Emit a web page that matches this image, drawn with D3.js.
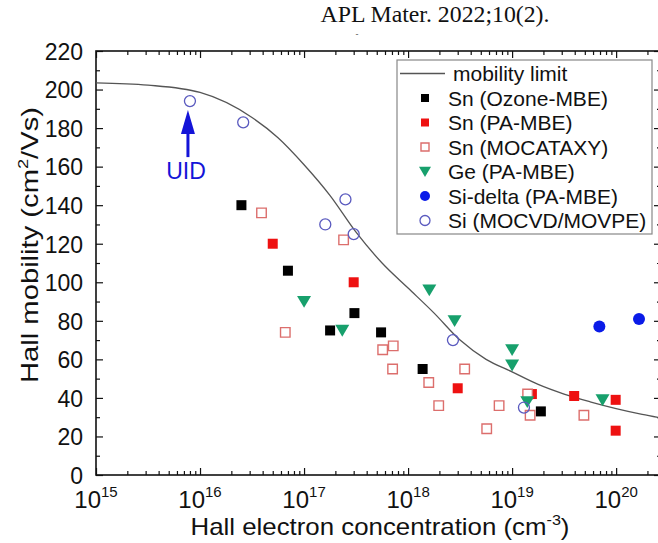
<!DOCTYPE html>
<html><head><meta charset="utf-8">
<script src="https://cdn.jsdelivr.net/npm/d3@7"></script>
<style>
body{margin:0;background:#fff}
svg{display:block}
text{font-family:"Liberation Sans",Arial,Helvetica,sans-serif;fill:#111}
</style>
</head><body>
<svg id="chart" width="658" height="543"></svg>
<script>
// ---------- data ----------
const snOzoneConc = [2.5e16, 7.0e16, 1.78e17, 3.05e17, 5.5e17, 1.38e18, 1.89e19];
const snOzoneMob  = [140, 106, 75, 84, 74, 55, 33];
const snPAConc = [5.0e16, 3.0e17, 3.0e18, 1.55e19, 3.95e19, 9.9e19, 9.9e19];
const snPAMob  = [120, 100, 45, 42, 41, 39, 23];
const snMocConc = [3.9e16, 6.6e16, 2.4e17, 5.7e17, 7.2e17, 7.1e17, 1.58e18, 1.97e18, 3.5e18, 7.5e18, 5.7e18, 1.41e19, 1.49e19, 4.9e19];
const snMocMob  = [136, 74, 122, 65, 67, 55, 48, 36, 55, 36, 24, 42, 31, 31];
const geConc = [1.0e17, 2.33e17, 1.6e18, 2.8e18, 1.0e19, 1.0e19, 1.4e19, 7.4e19];
const geMob  = [90, 75, 96, 80, 65, 57, 38, 39];
const siDeltaConc = [6.9e19, 1.66e20];
const siDeltaMob  = [77, 81];
const siConc = [8.0e15, 2.6e16, 1.6e17, 2.5e17, 3.0e17, 2.7e18, 1.3e19];
const siMob  = [194, 183, 130, 143, 125, 70, 35];
const limitConc = [1e15, 3.16e15, 1e16, 3.16e16, 5.62e16, 1e17, 1.78e17, 3.16e17, 5.62e17, 1e18, 1.78e18, 3.16e18, 5.62e18, 1e19, 1.78e19, 3.16e19, 5.62e19, 1e20, 1.78e20, 2.8e20];
const limitMob  = [203.5, 202.3, 198.5, 185.5, 175, 161, 145, 126, 110, 97, 84, 70, 60, 53.5, 47, 42, 38, 34.5, 31.5, 29.5];
const yTickLabels = [0, 20, 40, 60, 80, 100, 120, 140, 160, 180, 200, 220];
const xTickExponents = [15, 16, 17, 18, 19, 20];
const legendLabels = ["mobility limit", "Sn (Ozone-MBE)", "Sn (PA-MBE)", "Sn (MOCATAXY)", "Ge (PA-MBE)", "Si-delta (PA-MBE)", "Si (MOCVD/MOVPE)"];
const uidConc = 8.0e15, uidMob = 194;

// ---------- layout ----------
const L = 96, R = 661, T = 51, B = 475;
const svg = d3.select("#chart");
const x = d3.scaleLog().domain([1e15, 2.7e20]).range([L, R]);
const y = d3.scaleLinear().domain([0, 220]).range([B, T]);

// title
svg.append("text").attr("x", 435).attr("y", 22).attr("text-anchor", "middle")
  .attr("textLength", 229).attr("lengthAdjust", "spacingAndGlyphs")
  .style("font-family", "'Liberation Serif','Times New Roman',serif").style("font-size", "23px")
  .text("APL Mater. 2022;10(2).");
svg.append("text").attr("x", 357).attr("y", 37).attr("text-anchor", "middle")
  .style("font-size", "9px").style("fill", "#555").text("-");

// ---------- axes ----------
const xMajors = xTickExponents.map(e => Math.pow(10, e));
const xMinors = [];
xTickExponents.forEach(e => { for (let k = 2; k <= 9; k++) { const v = k * Math.pow(10, e); if (v <= 2.7e20) xMinors.push(v); } });
const yMinors = d3.range(10, 220, 20);

function styleAxis(g) { g.select(".domain").remove(); g.selectAll("line").attr("stroke", "#111").attr("stroke-width", 1.2); }

svg.append("g").attr("transform", `translate(0,${B})`).call(d3.axisBottom(x).tickValues(xMajors).tickSize(-7).tickFormat("")).call(styleAxis);
svg.append("g").attr("transform", `translate(0,${B})`).call(d3.axisBottom(x).tickValues(xMinors).tickSize(-4).tickFormat("")).call(styleAxis);
svg.append("g").attr("transform", `translate(0,${T})`).call(d3.axisTop(x).tickValues(xMajors).tickSize(-7).tickFormat("")).call(styleAxis);
svg.append("g").attr("transform", `translate(0,${T})`).call(d3.axisTop(x).tickValues(xMinors).tickSize(-4).tickFormat("")).call(styleAxis);

const yAx = svg.append("g").attr("transform", `translate(${L},0)`)
  .call(d3.axisLeft(y).tickValues(yTickLabels).tickSize(-7).tickPadding(13).tickFormat(d3.format("d")));
yAx.select(".domain").remove();
yAx.selectAll("line").attr("stroke", "#111").attr("stroke-width", 1.2);
yAx.selectAll("text").style("font-size", "23px").style("font-family", "'Liberation Sans',Arial,sans-serif").attr("fill", "#111").attr("dy", "0.36em");
svg.append("g").attr("transform", `translate(${L},0)`).call(d3.axisLeft(y).tickValues(yMinors).tickSize(-4).tickFormat("")).call(styleAxis);
svg.append("g").attr("transform", `translate(${R},0)`).call(d3.axisRight(y).tickValues(yTickLabels).tickSize(-7).tickFormat("")).call(styleAxis);
svg.append("g").attr("transform", `translate(${R},0)`).call(d3.axisRight(y).tickValues(yMinors).tickSize(-4).tickFormat("")).call(styleAxis);

// frame
svg.append("rect").attr("x", L).attr("y", T).attr("width", R - L).attr("height", B - T)
  .attr("fill", "none").attr("stroke", "#111").attr("stroke-width", 1.6);

// x tick labels with superscripts
const xl = svg.append("g");
xMajors.forEach((v, i) => {
  const t = xl.append("text").attr("x", x(v)).attr("y", 508).attr("text-anchor", "middle").style("font-size", "24px");
  t.append("tspan").text("10");
  t.append("tspan").attr("dy", -11).style("font-size", "15px").text(xTickExponents[i]);
});

// axis titles
const xt = svg.append("text").attr("x", 380).attr("y", 535).attr("text-anchor", "middle")
  .style("font-size", "24px").attr("textLength", 379).attr("lengthAdjust", "spacingAndGlyphs");
xt.append("tspan").text("Hall electron concentration (cm");
xt.append("tspan").attr("dy", -10).style("font-size", "15px").text("-3");
xt.append("tspan").attr("dy", 10).text(")");

const yt = svg.append("text").attr("transform", "translate(38,245) rotate(-90)").attr("text-anchor", "middle")
  .style("font-size", "24px").attr("textLength", 276).attr("lengthAdjust", "spacingAndGlyphs");
yt.append("tspan").text("Hall mobility (cm");
yt.append("tspan").attr("dy", -10).style("font-size", "15px").text("2");
yt.append("tspan").attr("dy", 10).text("/Vs)");

// ---------- mobility limit curve ----------
const limitData = limitConc.map((c, i) => [c, limitMob[i]]);
svg.append("path").datum(limitData)
  .attr("d", d3.line().x(d => x(d[0])).y(d => y(d[1])).curve(d3.curveMonotoneX))
  .attr("fill", "none").attr("stroke", "#555").attr("stroke-width", 1.3);

// ---------- markers ----------
const sq = d3.symbol().type(d3.symbolSquare);
function series(conc, mob, draw) {
  const g = svg.append("g");
  conc.forEach((c, i) => draw(g, x(c), y(mob[i])));
}
const filledSquare = (col, s) => (g, px, py) => g.append("path").attr("d", sq.size(s * s)()).attr("transform", `translate(${px},${py})`).attr("fill", col);
const openSquare = (s) => (g, px, py) => g.append("path").attr("d", sq.size(s * s)()).attr("transform", `translate(${px},${py})`).attr("fill", "#fff").attr("stroke", "#dc6e6c").attr("stroke-width", 1.4);
const downTri = (s) => (g, px, py) => g.append("path").attr("d", `M${-s/2},${-s*0.4}L${s/2},${-s*0.4}L0,${s*0.45}Z`).attr("transform", `translate(${px},${py})`).attr("fill", "#17a06c");
const filledCircle = (r) => (g, px, py) => g.append("circle").attr("cx", px).attr("cy", py).attr("r", r).attr("fill", "#0a1be8");
const openCircle = (r) => (g, px, py) => g.append("circle").attr("cx", px).attr("cy", py).attr("r", r).attr("fill", "none").attr("stroke", "#5a5abf").attr("stroke-width", 1.3);

series(snOzoneConc, snOzoneMob, filledSquare("#000", 10));
series(snPAConc, snPAMob, filledSquare("#ee1111", 10));
series(snMocConc, snMocMob, openSquare(9.5));
series(geConc, geMob, downTri(14));
series(siDeltaConc, siDeltaMob, filledCircle(6));
series(siConc, siMob, openCircle(5.5));

// UID annotation
const ux = x(uidConc), uy = y(uidMob);
svg.append("line").attr("x1", ux - 2).attr("x2", ux - 2).attr("y1", uy + 32).attr("y2", uy + 56).attr("stroke", "#1414d8").attr("stroke-width", 3);
svg.append("path").attr("d", `M${ux - 2},${uy + 9}L${ux - 9},${uy + 33}L${ux + 5},${uy + 33}Z`).attr("fill", "#1414d8");
svg.append("text").attr("x", ux - 4).attr("y", uy + 78).attr("text-anchor", "middle").style("font-size", "23px").style("fill", "#1414d8").text("UID");

// ---------- legend ----------
const lg = svg.append("g");
lg.append("rect").attr("x", 397).attr("y", 60).attr("width", 255).attr("height", 174).attr("fill", "#fff").attr("stroke", "#888").attr("stroke-width", 1.2);
const rowY = i => 73.5 + i * 24.5;
lg.append("line").attr("x1", 400).attr("x2", 445).attr("y1", rowY(0)).attr("y2", rowY(0)).attr("stroke", "#555").attr("stroke-width", 1.3);
const legDraw = [null, filledSquare("#000", 8), filledSquare("#ee1111", 8), openSquare(8), downTri(12), filledCircle(5), openCircle(5)];
legDraw.forEach((f, i) => { if (f) f(lg, 425, rowY(i)); });
legendLabels.forEach((t, i) => {
  lg.append("text").attr("x", i === 0 ? 453 : 448).attr("y", rowY(i)).attr("dy", "0.36em").style("font-size", "21px").text(t);
});
</script>
</body></html>
